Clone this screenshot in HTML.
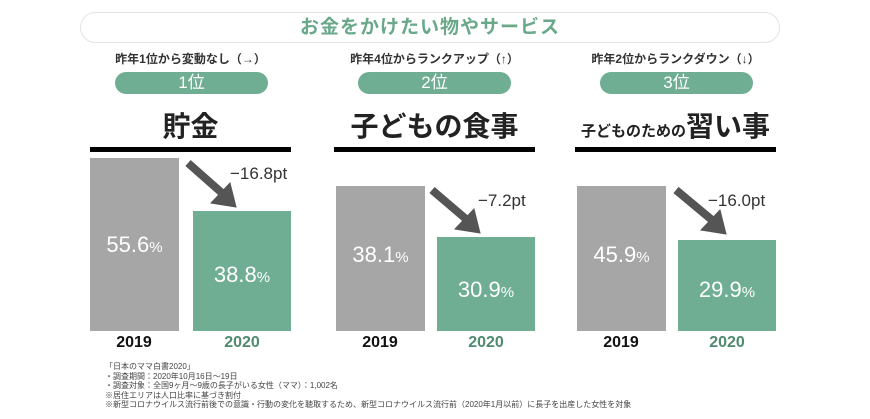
<!DOCTYPE html>
<html><head><meta charset="utf-8"><style>
body{margin:0;width:870px;height:419px;background:#fff;position:relative;overflow:hidden;font-family:"Liberation Sans","Noto Sans CJK JP",sans-serif;}
.a{position:absolute;}
.title{left:80px;top:12px;width:700px;height:31px;border:1px solid #dfe5e2;border-radius:16px;box-sizing:border-box;text-align:center;color:#6aa88a;font-size:19px;font-weight:bold;line-height:29px;letter-spacing:1px;}
.sub{font-size:12px;color:#333;text-align:center;width:201px;font-weight:bold;}
.pill{height:22px;border-radius:11px;background:#6fae92;color:#fff;font-size:17px;text-align:center;line-height:22px;width:153px;}
.head{font-size:28px;font-weight:bold;color:#222;text-align:center;width:201px;}
.line{height:5px;background:#000;width:201px;}
.gray{background:#a6a6a6;}
.green{background:#6fae92;}
.val{color:#fff;font-size:22px;text-align:center;}
.val small{font-size:15px;}
.pt{font-size:17px;color:#333;}
.yr{font-size:16px;font-weight:bold;text-align:center;width:98px;}
.note{left:105px;top:362px;font-size:8px;line-height:9.6px;color:#444;}
</style></head><body>
<div class="a title">お金をかけたい物やサービス</div>

<div class="a sub" style="left:90px;top:50px">昨年1位から変動なし（→）</div>
<div class="a pill" style="left:115px;top:72px">1位</div>
<div class="a head" style="left:90px;top:105px">貯金</div>
<div class="a line" style="left:90px;top:147px"></div>
<div class="a gray" style="left:90px;top:158px;width:89px;height:173px"></div>
<div class="a green" style="left:193px;top:211px;width:98px;height:120px"></div>
<div class="a val" style="left:90px;top:232px;width:89px">55.6<small>%</small></div>
<div class="a val" style="left:193px;top:262px;width:98px">38.8<small>%</small></div>
<div class="a pt" style="left:230px;top:164px">−16.8pt</div>
<div class="a yr" style="left:85px;top:334px;color:#111">2019</div>
<div class="a yr" style="left:193px;top:334px;color:#4f8a70">2020</div>

<div class="a sub" style="left:334px;top:50px">昨年4位からランクアップ（↑）</div>
<div class="a pill" style="left:358px;top:72px">2位</div>
<div class="a head" style="left:334px;top:105px">子どもの食事</div>
<div class="a line" style="left:334px;top:147px"></div>
<div class="a gray" style="left:336px;top:186px;width:89px;height:145px"></div>
<div class="a green" style="left:437px;top:237px;width:98px;height:94px"></div>
<div class="a val" style="left:336px;top:242px;width:89px">38.1<small>%</small></div>
<div class="a val" style="left:437px;top:277px;width:98px">30.9<small>%</small></div>
<div class="a pt" style="left:478px;top:191px">−7.2pt</div>
<div class="a yr" style="left:331px;top:334px;color:#111">2019</div>
<div class="a yr" style="left:437px;top:334px;color:#4f8a70">2020</div>

<div class="a sub" style="left:575px;top:50px">昨年2位からランクダウン（↓）</div>
<div class="a pill" style="left:600px;top:72px">3位</div>
<div class="a head" style="left:575px;top:105px;font-size:15px"><span style="font-size:15px">子どものための</span><span style="font-size:28px">習い事</span></div>
<div class="a line" style="left:575px;top:147px"></div>
<div class="a gray" style="left:577px;top:186px;width:89px;height:145px"></div>
<div class="a green" style="left:678px;top:240px;width:98px;height:91px"></div>
<div class="a val" style="left:577px;top:242px;width:89px">45.9<small>%</small></div>
<div class="a val" style="left:678px;top:277px;width:98px">29.9<small>%</small></div>
<div class="a pt" style="left:708px;top:191px">−16.0pt</div>
<div class="a yr" style="left:572px;top:334px;color:#111">2019</div>
<div class="a yr" style="left:678px;top:334px;color:#4f8a70">2020</div>

<svg class="a" style="left:0;top:0" width="870" height="419">
<g fill="#555" stroke="#555">
<line x1="188" y1="163" x2="222" y2="193" stroke-width="8"/>
<polygon points="236,207 211,203 230,183" stroke-width="1"/>
<line x1="432" y1="190" x2="466" y2="219" stroke-width="8"/>
<polygon points="480,233 455,229 474,209" stroke-width="1"/>
<line x1="676" y1="190" x2="712" y2="220" stroke-width="8"/>
<polygon points="726,234 701,230 720,210" stroke-width="1"/>
</g></svg>

<div class="a note">「日本のママ白書2020」<br>・調査期間：2020年10月16日～19日<br>・調査対象：全国9ヶ月～9歳の長子がいる女性（ママ）：1,002名<br>※居住エリアは人口比率に基づき割付<br>※新型コロナウイルス流行前後での意識・行動の変化を聴取するため、新型コロナウイルス流行前（2020年1月以前）に長子を出産した女性を対象</div>
</body></html>
